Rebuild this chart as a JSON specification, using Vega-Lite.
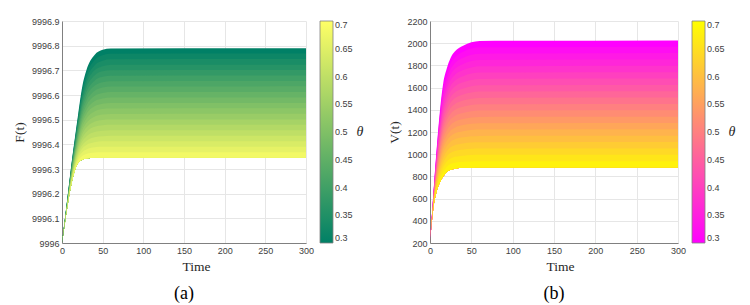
{
  "$schema": "https://vega.github.io/schema/vega-lite/v6.json",
  "background": "white",
  "padding": {"left": 12, "top": 17, "right": 5, "bottom": 2},
  "spacing": 23,
  "config": {
    "view": {"stroke": null},
    "axis": {"labelFont": "Liberation Sans", "labelFontSize": 9, "labelColor": "#404040", "titleFont": "Liberation Serif", "titleFontSize": 13.5, "titleFontWeight": "normal", "titleColor": "#262626", "domainColor": "#808080", "ticks": false, "labelPadding": 3, "grid": true, "gridColor": "#e6e6e6", "labelFlush": false},
    "legend": {"gradientLength": 222, "gradientThickness": 13, "gradientStrokeColor": "#808080", "gradientStrokeWidth": 0.8, "labelFont": "Liberation Sans", "labelFontSize": 9, "labelColor": "#404040", "labelOffset": 4, "titleFont": "Liberation Serif", "titleFontStyle": "italic", "titleFontWeight": "normal", "titleFontSize": 14, "titleColor": "#262626", "titleOrient": "right", "titleAnchor": "middle", "titleBaseline": "middle", "titlePadding": 7, "offset": 14},
    "title": {"font": "Liberation Serif", "fontSize": 18, "fontWeight": "normal", "color": "#000000", "orient": "bottom", "offset": 12}
  },
  "datasets": {
    "d": [
      {"c":0.30,"t":0,"f":9996,"v":200},{"c":0.30,"t":4,"f":9996.110,"v":640},{"c":0.30,"t":8,"f":9996.220,"v":1045},{"c":0.30,"t":12,"f":9996.330,"v":1390},{"c":0.30,"t":16,"f":9996.430,"v":1640},{"c":0.30,"t":20,"f":9996.525,"v":1765},{"c":0.30,"t":25,"f":9996.635,"v":1870},{"c":0.30,"t":30,"f":9996.700,"v":1925},{"c":0.30,"t":40,"f":9996.762,"v":1978},{"c":0.30,"t":50,"f":9996.783,"v":2008},{"c":0.30,"t":60,"f":9996.789,"v":2020},{"c":0.30,"t":300,"f":9996.790,"v":2025},
      {"c":0.32,"t":0,"f":9996,"v":200},{"c":0.32,"t":4,"f":9996.109,"v":634},{"c":0.32,"t":8,"f":9996.218,"v":1026},{"c":0.32,"t":12,"f":9996.326,"v":1358},{"c":0.32,"t":16,"f":9996.423,"v":1598},{"c":0.32,"t":20,"f":9996.515,"v":1719},{"c":0.32,"t":25,"f":9996.620,"v":1820},{"c":0.32,"t":30,"f":9996.682,"v":1872},{"c":0.32,"t":40,"f":9996.741,"v":1923},{"c":0.32,"t":50,"f":9996.761,"v":1952},{"c":0.32,"t":60,"f":9996.767,"v":1963},{"c":0.32,"t":300,"f":9996.768,"v":1968},
      {"c":0.34,"t":0,"f":9996,"v":200},{"c":0.34,"t":4,"f":9996.108,"v":627},{"c":0.34,"t":8,"f":9996.216,"v":1007},{"c":0.34,"t":12,"f":9996.322,"v":1326},{"c":0.34,"t":16,"f":9996.417,"v":1556},{"c":0.34,"t":20,"f":9996.505,"v":1672},{"c":0.34,"t":25,"f":9996.605,"v":1769},{"c":0.34,"t":30,"f":9996.664,"v":1820},{"c":0.34,"t":40,"f":9996.720,"v":1868},{"c":0.34,"t":50,"f":9996.739,"v":1895},{"c":0.34,"t":60,"f":9996.745,"v":1906},{"c":0.34,"t":300,"f":9996.746,"v":1911},
      {"c":0.36,"t":0,"f":9996,"v":200},{"c":0.36,"t":4,"f":9996.107,"v":621},{"c":0.36,"t":8,"f":9996.213,"v":988},{"c":0.36,"t":12,"f":9996.317,"v":1293},{"c":0.36,"t":16,"f":9996.410,"v":1514},{"c":0.36,"t":20,"f":9996.495,"v":1626},{"c":0.36,"t":25,"f":9996.590,"v":1719},{"c":0.36,"t":30,"f":9996.646,"v":1767},{"c":0.36,"t":40,"f":9996.700,"v":1813},{"c":0.36,"t":50,"f":9996.717,"v":1839},{"c":0.36,"t":60,"f":9996.723,"v":1849},{"c":0.36,"t":300,"f":9996.723,"v":1853},
      {"c":0.38,"t":0,"f":9996,"v":200},{"c":0.38,"t":4,"f":9996.106,"v":614},{"c":0.38,"t":8,"f":9996.211,"v":969},{"c":0.38,"t":12,"f":9996.313,"v":1261},{"c":0.38,"t":16,"f":9996.403,"v":1472},{"c":0.38,"t":20,"f":9996.485,"v":1580},{"c":0.38,"t":25,"f":9996.576,"v":1668},{"c":0.38,"t":30,"f":9996.629,"v":1714},{"c":0.38,"t":40,"f":9996.679,"v":1758},{"c":0.38,"t":50,"f":9996.696,"v":1782},{"c":0.38,"t":60,"f":9996.700,"v":1792},{"c":0.38,"t":300,"f":9996.701,"v":1796},
      {"c":0.40,"t":0,"f":9996,"v":200},{"c":0.40,"t":4,"f":9996.105,"v":608},{"c":0.40,"t":8,"f":9996.209,"v":950},{"c":0.40,"t":12,"f":9996.309,"v":1229},{"c":0.40,"t":16,"f":9996.396,"v":1430},{"c":0.40,"t":20,"f":9996.475,"v":1533},{"c":0.40,"t":25,"f":9996.561,"v":1618},{"c":0.40,"t":30,"f":9996.611,"v":1661},{"c":0.40,"t":40,"f":9996.658,"v":1703},{"c":0.40,"t":50,"f":9996.674,"v":1726},{"c":0.40,"t":60,"f":9996.678,"v":1735},{"c":0.40,"t":300,"f":9996.679,"v":1739},
      {"c":0.42,"t":0,"f":9996,"v":200},{"c":0.42,"t":4,"f":9996.104,"v":601},{"c":0.42,"t":8,"f":9996.207,"v":931},{"c":0.42,"t":12,"f":9996.305,"v":1197},{"c":0.42,"t":16,"f":9996.390,"v":1387},{"c":0.42,"t":20,"f":9996.465,"v":1487},{"c":0.42,"t":25,"f":9996.546,"v":1567},{"c":0.42,"t":30,"f":9996.593,"v":1609},{"c":0.42,"t":40,"f":9996.637,"v":1648},{"c":0.42,"t":50,"f":9996.652,"v":1669},{"c":0.42,"t":60,"f":9996.656,"v":1678},{"c":0.42,"t":300,"f":9996.657,"v":1682},
      {"c":0.44,"t":0,"f":9996,"v":200},{"c":0.44,"t":4,"f":9996.103,"v":595},{"c":0.44,"t":8,"f":9996.204,"v":912},{"c":0.44,"t":12,"f":9996.300,"v":1164},{"c":0.44,"t":16,"f":9996.383,"v":1345},{"c":0.44,"t":20,"f":9996.455,"v":1441},{"c":0.44,"t":25,"f":9996.531,"v":1517},{"c":0.44,"t":30,"f":9996.575,"v":1556},{"c":0.44,"t":40,"f":9996.616,"v":1593},{"c":0.44,"t":50,"f":9996.630,"v":1613},{"c":0.44,"t":60,"f":9996.634,"v":1621},{"c":0.44,"t":300,"f":9996.635,"v":1624},
      {"c":0.46,"t":0,"f":9996,"v":200},{"c":0.46,"t":4,"f":9996.102,"v":588},{"c":0.46,"t":8,"f":9996.202,"v":893},{"c":0.46,"t":12,"f":9996.296,"v":1132},{"c":0.46,"t":16,"f":9996.376,"v":1303},{"c":0.46,"t":20,"f":9996.445,"v":1394},{"c":0.46,"t":25,"f":9996.516,"v":1466},{"c":0.46,"t":30,"f":9996.557,"v":1503},{"c":0.46,"t":40,"f":9996.596,"v":1538},{"c":0.46,"t":50,"f":9996.608,"v":1556},{"c":0.46,"t":60,"f":9996.612,"v":1564},{"c":0.46,"t":300,"f":9996.612,"v":1567},
      {"c":0.48,"t":0,"f":9996,"v":200},{"c":0.48,"t":4,"f":9996.101,"v":582},{"c":0.48,"t":8,"f":9996.200,"v":874},{"c":0.48,"t":12,"f":9996.292,"v":1100},{"c":0.48,"t":16,"f":9996.369,"v":1261},{"c":0.48,"t":20,"f":9996.435,"v":1348},{"c":0.48,"t":25,"f":9996.501,"v":1416},{"c":0.48,"t":30,"f":9996.539,"v":1450},{"c":0.48,"t":40,"f":9996.575,"v":1483},{"c":0.48,"t":50,"f":9996.586,"v":1500},{"c":0.48,"t":60,"f":9996.590,"v":1507},{"c":0.48,"t":300,"f":9996.590,"v":1510},
      {"c":0.50,"t":0,"f":9996,"v":200},{"c":0.50,"t":4,"f":9996.100,"v":575},{"c":0.50,"t":8,"f":9996.198,"v":855},{"c":0.50,"t":12,"f":9996.288,"v":1068},{"c":0.50,"t":16,"f":9996.363,"v":1219},{"c":0.50,"t":20,"f":9996.425,"v":1302},{"c":0.50,"t":25,"f":9996.487,"v":1365},{"c":0.50,"t":30,"f":9996.522,"v":1398},{"c":0.50,"t":40,"f":9996.554,"v":1428},{"c":0.50,"t":50,"f":9996.565,"v":1444},{"c":0.50,"t":60,"f":9996.568,"v":1450},{"c":0.50,"t":300,"f":9996.568,"v":1453},
      {"c":0.52,"t":0,"f":9996,"v":200},{"c":0.52,"t":4,"f":9996.099,"v":569},{"c":0.52,"t":8,"f":9996.195,"v":836},{"c":0.52,"t":12,"f":9996.283,"v":1035},{"c":0.52,"t":16,"f":9996.356,"v":1177},{"c":0.52,"t":20,"f":9996.415,"v":1255},{"c":0.52,"t":25,"f":9996.472,"v":1315},{"c":0.52,"t":30,"f":9996.504,"v":1345},{"c":0.52,"t":40,"f":9996.533,"v":1372},{"c":0.52,"t":50,"f":9996.543,"v":1387},{"c":0.52,"t":60,"f":9996.545,"v":1393},{"c":0.52,"t":300,"f":9996.546,"v":1395},
      {"c":0.54,"t":0,"f":9996,"v":200},{"c":0.54,"t":4,"f":9996.098,"v":562},{"c":0.54,"t":8,"f":9996.193,"v":817},{"c":0.54,"t":12,"f":9996.279,"v":1003},{"c":0.54,"t":16,"f":9996.349,"v":1135},{"c":0.54,"t":20,"f":9996.405,"v":1209},{"c":0.54,"t":25,"f":9996.457,"v":1264},{"c":0.54,"t":30,"f":9996.486,"v":1292},{"c":0.54,"t":40,"f":9996.512,"v":1317},{"c":0.54,"t":50,"f":9996.521,"v":1331},{"c":0.54,"t":60,"f":9996.523,"v":1336},{"c":0.54,"t":300,"f":9996.524,"v":1338},
      {"c":0.56,"t":0,"f":9996,"v":200},{"c":0.56,"t":4,"f":9996.097,"v":556},{"c":0.56,"t":8,"f":9996.191,"v":798},{"c":0.56,"t":12,"f":9996.275,"v":971},{"c":0.56,"t":16,"f":9996.342,"v":1093},{"c":0.56,"t":20,"f":9996.395,"v":1162},{"c":0.56,"t":25,"f":9996.442,"v":1214},{"c":0.56,"t":30,"f":9996.468,"v":1239},{"c":0.56,"t":40,"f":9996.492,"v":1262},{"c":0.56,"t":50,"f":9996.499,"v":1274},{"c":0.56,"t":60,"f":9996.501,"v":1279},{"c":0.56,"t":300,"f":9996.501,"v":1281},
      {"c":0.58,"t":0,"f":9996,"v":200},{"c":0.58,"t":4,"f":9996.096,"v":549},{"c":0.58,"t":8,"f":9996.189,"v":779},{"c":0.58,"t":12,"f":9996.271,"v":939},{"c":0.58,"t":16,"f":9996.336,"v":1051},{"c":0.58,"t":20,"f":9996.385,"v":1116},{"c":0.58,"t":25,"f":9996.427,"v":1163},{"c":0.58,"t":30,"f":9996.450,"v":1187},{"c":0.58,"t":40,"f":9996.471,"v":1207},{"c":0.58,"t":50,"f":9996.477,"v":1218},{"c":0.58,"t":60,"f":9996.479,"v":1222},{"c":0.58,"t":300,"f":9996.479,"v":1224},
      {"c":0.60,"t":0,"f":9996,"v":200},{"c":0.60,"t":4,"f":9996.095,"v":543},{"c":0.60,"t":8,"f":9996.186,"v":760},{"c":0.60,"t":12,"f":9996.266,"v":906},{"c":0.60,"t":16,"f":9996.329,"v":1009},{"c":0.60,"t":20,"f":9996.375,"v":1070},{"c":0.60,"t":25,"f":9996.412,"v":1113},{"c":0.60,"t":30,"f":9996.432,"v":1134},{"c":0.60,"t":40,"f":9996.450,"v":1152},{"c":0.60,"t":50,"f":9996.455,"v":1161},{"c":0.60,"t":60,"f":9996.457,"v":1165},{"c":0.60,"t":300,"f":9996.457,"v":1166},
      {"c":0.62,"t":0,"f":9996,"v":200},{"c":0.62,"t":4,"f":9996.094,"v":536},{"c":0.62,"t":8,"f":9996.184,"v":741},{"c":0.62,"t":12,"f":9996.262,"v":874},{"c":0.62,"t":16,"f":9996.322,"v":966},{"c":0.62,"t":20,"f":9996.365,"v":1023},{"c":0.62,"t":25,"f":9996.397,"v":1062},{"c":0.62,"t":30,"f":9996.414,"v":1081},{"c":0.62,"t":40,"f":9996.429,"v":1097},{"c":0.62,"t":50,"f":9996.433,"v":1105},{"c":0.62,"t":60,"f":9996.435,"v":1108},{"c":0.62,"t":300,"f":9996.435,"v":1109},
      {"c":0.64,"t":0,"f":9996,"v":200},{"c":0.64,"t":4,"f":9996.093,"v":530},{"c":0.64,"t":8,"f":9996.182,"v":722},{"c":0.64,"t":12,"f":9996.258,"v":842},{"c":0.64,"t":16,"f":9996.315,"v":924},{"c":0.64,"t":20,"f":9996.355,"v":977},{"c":0.64,"t":25,"f":9996.383,"v":1012},{"c":0.64,"t":30,"f":9996.397,"v":1028},{"c":0.64,"t":40,"f":9996.408,"v":1042},{"c":0.64,"t":50,"f":9996.412,"v":1048},{"c":0.64,"t":60,"f":9996.412,"v":1051},{"c":0.64,"t":300,"f":9996.413,"v":1052},
      {"c":0.66,"t":0,"f":9996,"v":200},{"c":0.66,"t":4,"f":9996.092,"v":523},{"c":0.66,"t":8,"f":9996.180,"v":703},{"c":0.66,"t":12,"f":9996.254,"v":810},{"c":0.66,"t":16,"f":9996.309,"v":882},{"c":0.66,"t":20,"f":9996.345,"v":931},{"c":0.66,"t":25,"f":9996.368,"v":961},{"c":0.66,"t":30,"f":9996.379,"v":976},{"c":0.66,"t":40,"f":9996.388,"v":987},{"c":0.66,"t":50,"f":9996.390,"v":992},{"c":0.66,"t":60,"f":9996.390,"v":994},{"c":0.66,"t":300,"f":9996.390,"v":995},
      {"c":0.68,"t":0,"f":9996,"v":200},{"c":0.68,"t":4,"f":9996.091,"v":517},{"c":0.68,"t":8,"f":9996.177,"v":684},{"c":0.68,"t":12,"f":9996.249,"v":777},{"c":0.68,"t":16,"f":9996.302,"v":840},{"c":0.68,"t":20,"f":9996.335,"v":884},{"c":0.68,"t":25,"f":9996.353,"v":911},{"c":0.68,"t":30,"f":9996.361,"v":923},{"c":0.68,"t":40,"f":9996.367,"v":932},{"c":0.68,"t":50,"f":9996.368,"v":935},{"c":0.68,"t":60,"f":9996.368,"v":937},{"c":0.68,"t":300,"f":9996.368,"v":937},
      {"c":0.70,"t":0,"f":9996,"v":200},{"c":0.70,"t":4,"f":9996.090,"v":510},{"c":0.70,"t":8,"f":9996.175,"v":665},{"c":0.70,"t":12,"f":9996.245,"v":745},{"c":0.70,"t":16,"f":9996.295,"v":798},{"c":0.70,"t":20,"f":9996.325,"v":838},{"c":0.70,"t":25,"f":9996.338,"v":860},{"c":0.70,"t":30,"f":9996.343,"v":870},{"c":0.70,"t":40,"f":9996.346,"v":877},{"c":0.70,"t":50,"f":9996.346,"v":879},{"c":0.70,"t":60,"f":9996.346,"v":880},{"c":0.70,"t":300,"f":9996.346,"v":880}
    ]
  },
  "hconcat": [
    {
      "width": 244,
      "height": 222,
      "data": {"name": "d"},
      "transform": [
        {"window": [{"op": "last_value", "field": "f", "as": "fb"}], "groupby": ["t"], "sort": [{"field": "c", "order": "ascending"}], "frame": [null, null]},
        {"filter": "datum.c < 0.695"}
      ],
      "title": {"text": "(a)"},
      "mark": {"type": "area", "interpolate": "monotone"},
      "encoding": {
        "x": {"field": "t", "type": "quantitative", "scale": {"domain": [0, 300], "nice": false}, "axis": {"values": [0, 50, 100, 150, 200, 250, 300], "title": "Time", "titleX": 134}},
        "y": {"field": "f", "type": "quantitative", "scale": {"domain": [9996, 9996.9], "nice": false, "zero": false}, "axis": {"values": [9996, 9996.1, 9996.2, 9996.3, 9996.4, 9996.5, 9996.6, 9996.7, 9996.8, 9996.9], "format": ".5~r", "title": "F(t)", "titlePadding": 5}},
        "y2": {"field": "fb"},
        "detail": {"field": "c", "type": "quantitative"},
        "color": {"field": "c", "type": "quantitative", "scale": {"domain": [0.3, 0.7], "range": ["#008066", "#ffff66"], "interpolate": "rgb"}, "legend": {"type": "gradient", "title": "θ", "values": [0.3, 0.35, 0.4, 0.45, 0.5, 0.55, 0.6, 0.65, 0.7], "format": ".2~f", "encode": {"title": {"update": {"angle": {"value": 0}}}}}}
      }
    },
    {
      "width": 248,
      "height": 222,
      "data": {"name": "d"},
      "transform": [
        {"window": [{"op": "last_value", "field": "v", "as": "vb"}], "groupby": ["t"], "sort": [{"field": "c", "order": "ascending"}], "frame": [null, null]},
        {"filter": "datum.c < 0.695"}
      ],
      "title": {"text": "(b)"},
      "mark": {"type": "area", "interpolate": "monotone"},
      "encoding": {
        "x": {"field": "t", "type": "quantitative", "scale": {"domain": [0, 300], "nice": false}, "axis": {"values": [0, 50, 100, 150, 200, 250, 300], "title": "Time", "titleX": 130}},
        "y": {"field": "v", "type": "quantitative", "scale": {"domain": [200, 2200], "nice": false, "zero": false}, "axis": {"values": [200, 400, 600, 800, 1000, 1200, 1400, 1600, 1800, 2000, 2200], "format": "d", "title": "V(t)", "titlePadding": 5}},
        "y2": {"field": "vb"},
        "detail": {"field": "c", "type": "quantitative"},
        "color": {"field": "c", "type": "quantitative", "scale": {"domain": [0.3, 0.7], "range": ["#ff00ff", "#ffff00"], "interpolate": "rgb"}, "legend": {"type": "gradient", "title": "θ", "values": [0.3, 0.35, 0.4, 0.45, 0.5, 0.55, 0.6, 0.65, 0.7], "format": ".2~f", "encode": {"title": {"update": {"angle": {"value": 0}}}}}}
      }
    }
  ],
  "resolve": {"scale": {"color": "independent", "x": "independent", "y": "independent"}, "legend": {"color": "independent"}}
}
